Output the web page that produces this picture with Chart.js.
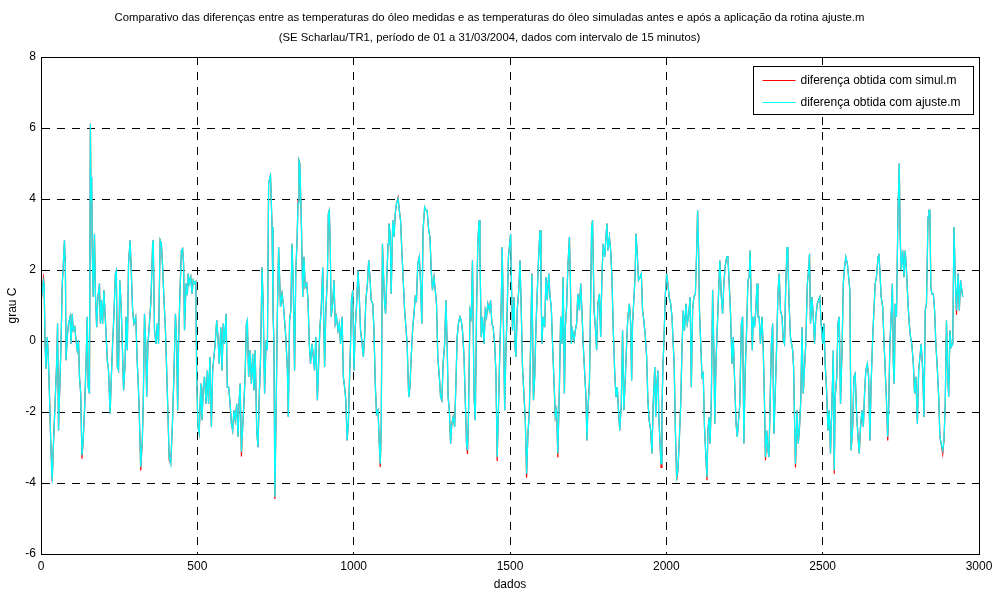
<!DOCTYPE html>
<html lang="pt">
<head>
<meta charset="utf-8">
<title>Comparativo das diferenças de temperatura do óleo</title>
<script src="https://cdn.jsdelivr.net/npm/chart.js@4.4.1/dist/chart.umd.min.js"></script>
<style>
  html, body { margin: 0; padding: 0; background: #fff; }
  canvas { display: block; }
</style>
</head>
<body>
<canvas id="chart" width="994" height="593"></canvas>
<script>
const TITLE_LINES = [
  "Comparativo das diferenças entre as temperaturas do óleo medidas e as temperaturas do óleo simuladas antes e após a aplicação da rotina ajuste.m",
  "(SE Scharlau/TR1, período de 01 a 31/03/2004, dados com intervalo de 15 minutos)",
];
const X_LABEL = "dados";
const Y_LABEL = "grau C";
const X_TICKS = [0, 500, 1000, 1500, 2000, 2500, 3000];
const Y_TICKS = [-6, -4, -2, 0, 2, 4, 6, 8];
const SERIES_LABELS = ["diferença obtida com simul.m", "diferença obtida com ajuste.m"];

// índice da amostra (intervalo de 15 minutos)
const dados = [
  1, 8, 10, 13, 16, 20, 23, 27, 31, 35, 36, 39, 45, 50, 53, 56, 61, 64, 68, 71, 75, 78, 80, 84, 88, 93, 96, 100, 103, 108, 112, 116, 120, 123, 127, 131, 135, 140, 144, 148, 151, 155, 158, 160, 162, 164, 167, 171, 174, 178, 182, 187, 190, 193, 197, 201, 207, 212, 216, 221, 225, 229, 233, 238, 241, 244, 248, 252, 256, 260, 264, 269, 272, 276, 280, 285, 289, 293, 297,
  303, 308, 311, 314, 319, 324, 327, 331, 335, 338, 342, 346, 351, 354, 357, 359, 363, 368, 372, 376, 381, 385, 389, 393, 398, 402, 406, 410, 415, 420, 425, 430, 434, 437, 440, 444, 449, 453, 456, 459, 464, 468, 471, 474, 479, 483, 487, 491, 495, 498, 502, 506, 511, 515, 519, 523, 528, 532, 536, 540, 545, 549, 553, 557, 562, 566, 570, 575, 579, 583, 587, 592, 596,
  600, 604, 609, 613, 617, 621, 626, 630, 634, 637, 641, 645, 649, 653, 657, 660, 664, 668, 673, 677, 681, 685, 690, 694, 698, 702, 707, 711, 715, 720, 724, 728, 732, 734, 739, 742, 745, 748, 752, 756, 760, 763, 766, 771, 775, 779, 783, 788, 791, 795, 799, 803, 807, 811, 815, 819, 822, 825, 828, 833, 837, 841, 845, 850, 854, 858, 862, 867, 871, 875, 879, 884, 888, 892, 896, 901,
  907, 911, 916, 919, 922, 925, 928, 933, 937, 941, 945, 950, 954, 958, 963, 967, 971, 975, 979, 983, 986, 990, 993, 997, 1001, 1005, 1009, 1014, 1018, 1022, 1027, 1031, 1035, 1039, 1044, 1048, 1052, 1056, 1061, 1065, 1069, 1073, 1078, 1082, 1085, 1088, 1092, 1095, 1099, 1102, 1105, 1110, 1113, 1117, 1120, 1125, 1129, 1133, 1137, 1142, 1146, 1150, 1154, 1159, 1163, 1167, 1171, 1176, 1180, 1184, 1189, 1193, 1197,
  1201, 1205, 1210, 1214, 1218, 1222, 1227, 1231, 1235, 1240, 1244, 1248, 1252, 1257, 1261, 1265, 1269, 1274, 1278, 1282, 1286, 1291, 1295, 1299, 1302, 1306, 1310, 1314, 1318, 1323, 1327, 1331, 1335, 1340, 1344, 1348, 1353, 1357, 1361, 1364, 1367, 1372, 1376, 1380, 1385, 1389, 1393, 1397, 1401, 1404, 1408, 1412, 1417, 1421, 1425, 1429, 1434, 1438, 1442, 1446, 1451, 1455, 1459, 1463, 1468, 1472, 1475, 1478, 1483, 1487, 1491, 1495,
  1502, 1505, 1508, 1513, 1516, 1519, 1523, 1528, 1532, 1536, 1540, 1545, 1549, 1553, 1557, 1562, 1566, 1570, 1575, 1579, 1583, 1587, 1592, 1596, 1599, 1602, 1606, 1611, 1615, 1619, 1624, 1628, 1632, 1636, 1641, 1645, 1649, 1653, 1658, 1662, 1666, 1670, 1674, 1677, 1681, 1685, 1690, 1693, 1696, 1700, 1705, 1709, 1713, 1717, 1722, 1726, 1730, 1734, 1739, 1743, 1746, 1749, 1754, 1758, 1761, 1764, 1769, 1773, 1777, 1781, 1786, 1790, 1794, 1798,
  1803, 1807, 1810, 1813, 1818, 1822, 1826, 1830, 1835, 1839, 1843, 1847, 1851, 1856, 1860, 1864, 1869, 1873, 1877, 1882, 1886, 1889, 1892, 1896, 1900, 1903, 1907, 1911, 1916, 1920, 1924, 1928, 1933, 1937, 1941, 1945, 1950, 1954, 1958, 1963, 1966, 1969, 1973, 1976, 1980, 1983, 1986, 1989, 1992, 1997, 2001, 2005, 2009, 2014, 2018, 2022, 2025, 2029, 2033, 2037, 2041, 2046, 2050, 2054, 2058, 2063, 2067, 2071, 2076, 2080, 2084, 2088, 2093, 2097, 2100,
  2103, 2106, 2110, 2114, 2118, 2122, 2127, 2130, 2133, 2137, 2140, 2144, 2148, 2152, 2155, 2159, 2163, 2167, 2171, 2176, 2180, 2184, 2188, 2193, 2197, 2201, 2205, 2210, 2214, 2218, 2223, 2227, 2231, 2235, 2240, 2244, 2248, 2252, 2257, 2261, 2265, 2268, 2272, 2275, 2278, 2282, 2286, 2290, 2293, 2297, 2301, 2306, 2310, 2314, 2317, 2321, 2325, 2328, 2331, 2336, 2340, 2344, 2348, 2353, 2357, 2361, 2365, 2370, 2374, 2378, 2382, 2386, 2389, 2393, 2397,
  2404, 2407, 2410, 2413, 2418, 2422, 2426, 2430, 2434, 2438, 2442, 2446, 2451, 2455, 2458, 2461, 2466, 2470, 2474, 2478, 2483, 2487, 2491, 2495, 2500, 2504, 2508, 2513, 2517, 2521, 2525, 2530, 2534, 2537, 2540, 2545, 2549, 2553, 2557, 2562, 2566, 2570, 2574, 2579, 2583, 2587, 2591, 2596, 2600, 2604, 2608, 2613, 2617, 2621, 2626, 2630, 2634, 2638, 2643, 2647, 2651, 2655, 2660, 2664, 2668, 2672, 2677, 2680, 2683, 2687, 2692, 2696, 2700,
  2704, 2708, 2711, 2715, 2719, 2723, 2726, 2729, 2732, 2736, 2741, 2745, 2748, 2751, 2756, 2760, 2764, 2768, 2773, 2777, 2781, 2785, 2790, 2794, 2798, 2803, 2807, 2811, 2815, 2820, 2824, 2828, 2832, 2837, 2840, 2843, 2846, 2849, 2854, 2858, 2862, 2867, 2871, 2875, 2879, 2884, 2888, 2892, 2896, 2900, 2903, 2907, 2911, 2916, 2920, 2924, 2928, 2933, 2937, 2941, 2945, 2948,
];

// diferença medida - simulada com ajuste.m (grau C)
const difAjuste = [
  1.15, 1.70, 1.62, -0.08, -0.78, 0.11, -0.36, -1.48, -2.80, -3.83, -3.88, -3.08, -1.77, -0.64, 0.49, -2.52, -1.01, -0.08, 1.62, 2.08, 2.84, 2.08, -0.54, 0.11, 0.49, 0.68, -0.08, 0.77, 0.30, 0.39, 0.02, -0.26, 0.02, -1.01, -1.48, -3.22, -2.80, -1.77, -0.64, 0.68, -1.30, -1.48, 6.12, 3.96, 4.62, 2.55, 1.24, 3.02, 1.33, 0.39, 1.24, 1.62, 0.49, 1.15, 0.49, 1.43, 0.39, -0.54, -0.83, -2.05, -1.01, -0.08, 0.68, 1.90, 1.99, -0.73, -0.83, 1.71, 1.05, -0.08, -1.39, -0.64, 0.68, -0.26, 2.18, 2.84, 1.90, 0.86, 0.49,
  0.68, -0.64, -1.20, -1.95, -3.55, -2.80, -1.77, 0.77, -0.08, -1.58, -0.08, 0.39, 1.05, 1.80, 2.74, 2.84, 0.30, -0.08, 0.49, -0.08, 2.84, 2.74, 2.08, 1.24, 0.30, -0.83, -2.05, -3.27, -3.46, -2.42, -1.01, 0.77, -0.08, -1.95, -0.08, 1.24, 2.55, 2.60, 2.18, 0.30, 1.62, 1.29, 1.90, 1.62, 1.80, 1.33, 1.71, 1.62, 1.67, -1.01, -2.42, -2.61, -1.20, -2.23, -1.30, -1.01, -1.77, -0.83, -1.77, -0.45, -2.42, -0.83, -0.45, -0.08, 0.58, 0.11, -0.64, 0.39, -0.83, 0.49, -0.08, 0.77, -1.30,
  -1.30, -1.67, -2.33, -2.52, -1.95, -2.23, -1.77, -2.70, -1.67, -1.20, -3.12, -2.42, -1.77, -0.92, 0.49, 0.58, -1.01, -0.26, -1.20, -0.36, -1.39, -0.26, -2.52, -2.99, -1.58, -0.54, 2.08, 0.86, -1.48, 0.02, -0.26, 4.43, 4.62, 4.67, 3.21, 0.86, -0.08, -4.39, -1.95, 0.77, 2.65, 1.80, 0.96, 1.33, 1.05, 0.58, 0.11, -0.83, -2.14, 0.58, 0.86, 2.74, 1.43, -0.83, 1.99, 2.84, 3.87, 5.09, 5.00, 3.21, 1.24, 2.37, 1.52, 1.62, 1.15, -0.08, -0.64, -0.08, -0.45, -0.83, 0.11, -1.67, -0.64, 0.39, 0.86, 2.08,
  -0.73, 0.86, 1.80, 3.59, 3.68, 2.74, 0.68, 1.05, 1.71, 0.49, 0.68, 0.30, 0.49, -0.08, 0.68, -1.01, -1.30, -1.67, -2.80, -2.33, -1.30, -0.08, 1.15, 1.43, -0.83, 0.39, 0.96, 1.99, 1.24, 0.30, -0.08, -0.45, 0.11, 1.15, 1.62, 2.27, 1.80, 1.15, 1.05, 0.30, -1.20, -2.05, -1.95, -2.89, -3.46, -2.52, 2.74, 1.99, 1.05, 0.77, 1.52, 2.74, 3.31, 2.98, 1.33, 3.40, 2.93, 3.59, 3.87, 4.01, 3.68, 3.40, 2.55, 1.62, 0.86, 0.39, -0.08, -1.58, -1.30, -0.45, 0.39, 0.77, 1.24,
  1.15, 2.18, 2.37, 1.62, 0.49, 3.12, 3.77, 3.68, 3.68, 3.12, 2.93, 1.99, 1.43, 1.80, 1.43, 1.05, -0.45, -1.01, -1.58, -1.67, -0.64, -0.08, 1.15, -0.08, -1.58, -1.95, -2.89, -2.33, -2.14, -2.42, -1.20, 0.11, 0.49, 0.68, 0.58, 0.30, -0.45, -1.67, -2.89, -3.08, -2.23, 0.86, 0.68, 2.27, -1.58, -2.23, 0.86, 2.74, 3.40, 2.37, 0.11, 0.68, -0.08, 0.86, 0.68, 1.05, 0.86, 1.15, 0.49, 0.39, -0.08, -0.92, -3.27, -1.95, -0.08, 1.05, 2.65, 1.05, -1.95, -0.26, 0.86, 2.37,
  3.02, 1.43, 0.30, 1.24, -0.17, -0.45, 0.86, 1.43, 2.27, 0.86, -0.73, -1.58, -2.23, -3.74, -2.70, -1.95, -0.08, 1.90, -1.67, -1.01, 0.39, 1.33, 2.46, 3.12, 1.80, -0.08, 0.68, 0.39, 1.80, 1.15, 1.90, 1.24, 0.96, -0.08, -1.20, -2.14, -1.95, -3.17, -1.30, 0.68, -0.08, 1.80, -1.48, 0.39, 0.96, 2.08, 2.93, 1.80, -0.08, 0.30, 0.02, 0.30, 0.49, 1.33, 0.86, 1.62, 0.86, -0.08, -0.92, -1.58, -2.80, -1.95, -1.20, 1.24, 3.21, 3.40, 0.86, 0.39, -0.26, 1.05, 1.33, 0.11, 1.80, 2.74,
  2.37, 2.93, 3.31, 2.55, 2.93, 2.55, 1.80, 0.39, -0.92, -1.58, -1.30, -1.95, -2.52, -1.77, 0.30, -1.95, -1.01, -0.08, 0.68, 1.05, 0.49, -1.11, 0.49, 1.15, 1.80, 3.02, 2.46, 1.71, 1.80, 1.90, 0.86, 0.58, 0.11, -0.45, -1.67, -2.23, -2.52, -3.17, -1.77, -0.73, -2.14, -1.30, -0.83, -2.14, -2.89, -3.46, -1.95, -0.73, -0.08, 1.33, 1.90, 1.62, 1.24, 1.05, 0.68, -0.08, -0.64, -2.52, -3.83, -3.64, -2.89, -1.77, -0.26, 0.86, 0.30, 1.05, 0.49, 0.68, 1.24, -1.30, 0.86, 1.24, 1.33, 2.55, 3.68,
  2.65, 0.86, -0.08, -1.01, -0.92, -2.42, -3.36, -3.83, -2.52, -2.14, -2.89, -1.58, 1.43, -0.26, -2.33, -0.54, 0.39, 1.33, 2.27, 1.24, 0.77, 1.62, 2.08, 2.37, 2.37, 1.62, 0.86, -0.64, 0.11, -1.01, -2.33, -2.70, -2.23, -1.77, 0.49, 0.68, -2.89, -0.92, 0.39, 1.71, 1.80, 2.55, 0.86, -0.26, 0.68, 0.39, 0.86, 1.62, 0.68, 0.68, -0.08, 0.68, -0.26, -1.77, -3.27, -2.52, -3.08, -3.27, -2.14, -0.08, 0.49, -2.61, -1.58, -0.08, 1.33, 1.90, 0.86, 0.68, 0.02, -0.08, 1.62, 2.65, 2.27, 0.96, 0.11,
  -0.26, -0.73, -2.23, -3.46, -1.95, -2.89, -2.42, -1.67, 0.39, -1.48, -0.73, -0.08, 1.62, 1.99, 2.46, 0.49, 1.24, 0.68, -0.08, 0.68, 1.05, 1.15, 1.24, 0.49, -0.08, 0.49, -0.64, -1.48, -2.52, -1.95, -3.17, -1.67, -0.26, -3.64, -1.58, -1.01, 0.49, 0.68, -1.77, -0.26, 1.62, 2.08, 2.37, 2.18, 1.80, 1.43, -3.08, -2.42, -1.01, -0.92, -1.95, -2.70, -3.17, -2.42, -1.95, -2.42, -1.48, -0.83, -0.64, -1.01, -2.80, -1.20, 0.11, 0.86, 1.62, 1.80, 2.37, 2.46, 1.99, 1.24, 0.96, 0.02, -0.83,
  -1.67, -2.70, -1.95, -0.08, 0.68, 1.62, -0.64, -1.20, 1.05, 0.68, 3.68, 5.00, 2.93, 1.99, 2.55, 1.80, 2.55, 1.99, 1.05, 0.49, 0.11, -0.08, -0.64, -1.48, -1.01, -2.33, -0.83, -0.45, -0.08, -0.83, -2.14, 0.86, 1.05, 3.49, 3.68, 3.68, 1.52, 1.33, 1.33, 0.86, -0.08, -0.83, -1.58, -2.70, -2.89, -3.08, -2.80, -1.77, 0.58, -1.01, -1.58, 0.30, -0.17, -0.08, 3.21, 1.80, 0.86, 1.90, 0.86, 1.71, 1.43, 1.24,
];

// diferença medida - simulada com simul.m (grau C)
const difSimul = [
  1.15, 1.78, 1.62, -0.08, -0.78, 0.11, -0.36, -1.48, -2.80, -3.83, -3.95, -3.08, -1.77, -0.64, 0.49, -2.52, -1.01, -0.08, 1.62, 2.08, 2.84, 2.08, -0.54, 0.11, 0.49, 0.68, -0.08, 0.77, 0.30, 0.39, 0.02, -0.26, 0.02, -1.01, -1.48, -3.32, -2.80, -1.77, -0.64, 0.68, -1.30, -1.48, 6.12, 3.96, 4.62, 2.55, 1.24, 3.02, 1.33, 0.39, 1.24, 1.62, 0.49, 1.15, 0.49, 1.43, 0.39, -0.54, -0.83, -2.05, -1.01, -0.08, 0.68, 1.90, 1.99, -0.73, -0.83, 1.71, 1.05, -0.08, -1.39, -0.64, 0.68, -0.26, 2.18, 2.84, 1.90, 0.86, 0.49,
  0.68, -0.64, -1.20, -1.95, -3.65, -2.80, -1.77, 0.77, -0.08, -1.58, -0.08, 0.39, 1.05, 1.80, 2.74, 2.84, 0.30, -0.08, 0.49, -0.08, 2.84, 2.74, 2.08, 1.24, 0.30, -0.83, -2.05, -3.35, -3.46, -2.42, -1.01, 0.77, -0.08, -1.95, -0.08, 1.24, 2.55, 2.60, 2.18, 0.30, 1.62, 1.29, 1.90, 1.62, 1.80, 1.33, 1.71, 1.62, 1.67, -1.01, -2.42, -2.61, -1.20, -2.23, -1.30, -1.01, -1.77, -0.83, -1.77, -0.45, -2.42, -0.83, -0.45, -0.08, 0.58, 0.11, -0.64, 0.39, -0.83, 0.49, -0.08, 0.77, -1.30,
  -1.30, -1.67, -2.33, -2.52, -1.95, -2.23, -1.77, -2.70, -1.67, -1.20, -3.25, -2.42, -1.77, -0.92, 0.49, 0.58, -1.01, -0.26, -1.20, -0.36, -1.39, -0.26, -2.52, -2.99, -1.58, -0.54, 2.08, 0.86, -1.48, 0.02, -0.26, 4.43, 4.62, 4.67, 3.21, 0.86, -0.08, -4.45, -1.95, 0.77, 2.65, 1.80, 0.96, 1.33, 1.05, 0.58, 0.11, -0.83, -2.14, 0.58, 0.86, 2.74, 1.43, -0.83, 1.99, 2.84, 3.95, 5.09, 5.00, 3.21, 1.24, 2.37, 1.52, 1.62, 1.15, -0.08, -0.64, -0.08, -0.45, -0.83, 0.11, -1.67, -0.64, 0.39, 0.86, 2.08,
  -0.73, 0.86, 1.80, 3.59, 3.68, 2.74, 0.68, 1.05, 1.71, 0.49, 0.68, 0.30, 0.49, -0.08, 0.68, -1.01, -1.30, -1.67, -2.80, -2.33, -1.30, -0.08, 1.15, 1.43, -0.83, 0.39, 0.96, 1.99, 1.24, 0.30, -0.08, -0.45, 0.11, 1.15, 1.62, 2.27, 1.80, 1.15, 1.05, 0.30, -1.20, -2.05, -1.95, -2.89, -3.55, -2.52, 2.74, 1.99, 1.05, 0.77, 1.52, 2.74, 3.31, 2.98, 1.33, 3.40, 2.93, 3.59, 3.87, 4.04, 3.68, 3.40, 2.55, 1.62, 0.86, 0.39, -0.08, -1.58, -1.30, -0.45, 0.39, 0.77, 1.24,
  1.15, 2.18, 2.37, 1.62, 0.49, 3.12, 3.77, 3.68, 3.68, 3.12, 2.93, 1.99, 1.43, 1.80, 1.43, 1.05, -0.45, -1.01, -1.58, -1.67, -0.64, -0.08, 1.15, -0.08, -1.58, -1.95, -2.89, -2.33, -2.14, -2.42, -1.20, 0.11, 0.49, 0.68, 0.58, 0.30, -0.45, -1.67, -2.89, -3.18, -2.23, 0.86, 0.68, 2.27, -1.58, -2.23, 0.86, 2.74, 3.40, 2.37, 0.11, 0.68, -0.08, 0.86, 0.68, 1.05, 0.86, 1.15, 0.49, 0.39, -0.08, -0.92, -3.38, -1.95, -0.08, 1.05, 2.65, 1.05, -1.95, -0.26, 0.86, 2.37,
  3.02, 1.43, 0.30, 1.24, -0.17, -0.45, 0.86, 1.43, 2.27, 0.86, -0.73, -1.58, -2.23, -3.85, -2.70, -1.95, -0.08, 1.90, -1.67, -1.01, 0.39, 1.33, 2.46, 3.12, 1.80, -0.08, 0.68, 0.39, 1.80, 1.15, 1.90, 1.24, 0.96, -0.08, -1.20, -2.14, -1.95, -3.28, -1.30, 0.68, -0.08, 1.80, -1.48, 0.39, 0.96, 2.08, 2.93, 1.80, -0.08, 0.30, 0.02, 0.30, 0.49, 1.33, 0.86, 1.62, 0.86, -0.08, -0.92, -1.58, -2.80, -1.95, -1.20, 1.24, 3.21, 3.40, 0.86, 0.39, -0.26, 1.05, 1.33, 0.11, 1.80, 2.74,
  2.37, 2.93, 3.31, 2.55, 2.93, 2.55, 1.80, 0.39, -0.92, -1.58, -1.30, -1.95, -2.52, -1.77, 0.30, -1.95, -1.01, -0.08, 0.68, 1.05, 0.49, -1.11, 0.49, 1.15, 1.80, 3.02, 2.46, 1.71, 1.80, 1.90, 0.86, 0.58, 0.11, -0.45, -1.67, -2.23, -2.52, -3.17, -1.77, -0.73, -2.14, -1.30, -0.83, -2.14, -2.89, -3.56, -1.95, -0.73, -0.08, 1.33, 1.90, 1.62, 1.24, 1.05, 0.68, -0.08, -0.64, -2.52, -3.92, -3.64, -2.89, -1.77, -0.26, 0.86, 0.30, 1.05, 0.49, 0.68, 1.24, -1.30, 0.86, 1.24, 1.33, 2.55, 3.68,
  2.65, 0.86, -0.08, -1.01, -0.92, -2.42, -3.36, -3.92, -2.52, -2.14, -2.89, -1.58, 1.43, -0.26, -2.33, -0.54, 0.39, 1.33, 2.27, 1.24, 0.77, 1.62, 2.08, 2.37, 2.37, 1.62, 0.86, -0.64, 0.11, -1.01, -2.33, -2.70, -2.23, -1.77, 0.49, 0.68, -2.89, -0.92, 0.39, 1.71, 1.80, 2.55, 0.86, -0.26, 0.68, 0.39, 0.86, 1.62, 0.68, 0.68, -0.08, 0.68, -0.26, -1.77, -3.36, -2.52, -3.08, -3.27, -2.14, -0.08, 0.49, -2.61, -1.58, -0.08, 1.33, 1.90, 0.86, 0.68, 0.02, -0.08, 1.62, 2.65, 2.27, 0.96, 0.11,
  -0.26, -0.73, -2.23, -3.56, -1.95, -2.89, -2.42, -1.67, 0.39, -1.48, -0.73, -0.08, 1.62, 1.99, 2.46, 0.49, 1.24, 0.68, -0.08, 0.68, 1.05, 1.15, 1.24, 0.49, -0.08, 0.49, -0.64, -1.48, -2.52, -1.95, -3.17, -1.67, -0.26, -3.74, -1.58, -1.01, 0.49, 0.68, -1.77, -0.26, 1.62, 2.08, 2.37, 2.18, 1.80, 1.43, -3.08, -2.42, -1.01, -0.92, -1.95, -2.70, -3.17, -2.42, -1.95, -2.42, -1.48, -0.83, -0.64, -1.01, -2.80, -1.20, 0.11, 0.86, 1.62, 1.80, 2.37, 2.46, 1.99, 1.24, 0.96, 0.02, -0.83,
  -1.67, -2.80, -1.95, -0.08, 0.68, 1.62, -0.64, -1.20, 1.05, 0.68, 3.68, 5.00, 2.93, 1.99, 2.55, 1.80, 2.55, 1.99, 1.05, 0.49, 0.11, -0.08, -0.64, -1.48, -1.01, -2.33, -0.83, -0.45, -0.08, -0.83, -2.14, 0.86, 1.05, 3.49, 3.68, 3.68, 1.52, 1.33, 1.33, 0.86, -0.08, -0.83, -1.58, -2.70, -2.89, -3.18, -2.80, -1.77, 0.58, -1.01, -1.58, 0.30, -0.17, -0.08, 3.21, 1.80, 0.74, 1.90, 0.86, 1.71, 1.43, 1.24,
];

const FONT_FAMILY = "'Liberation Sans', Arial, Helvetica, sans-serif";
const RED = "#ff0000";
const CYAN = "#00ffff";

function toPoints(values) {
  return dados.map((x, index) => ({ x, y: values[index] }));
}

// MATLAB-like box around the axes plus the boxed legend in the upper right corner
const axesFrame = {
  id: "axesFrame",
  afterDraw(chart) {
    const { ctx, chartArea } = chart;
    const left = Math.round(chartArea.left) + 0.5;
    const top = Math.round(chartArea.top) + 0.5;
    const right = Math.round(chartArea.right) + 0.5;
    const bottom = Math.round(chartArea.bottom) + 0.5;

    ctx.save();
    ctx.strokeStyle = "#000";
    ctx.lineWidth = 1;
    ctx.setLineDash([]);
    ctx.strokeRect(left, top, right - left, bottom - top);

    const boxWidth = 220;
    const boxHeight = 48;
    const boxLeft = right - 6 - boxWidth;
    const boxTop = top + 9;
    ctx.fillStyle = "#fff";
    ctx.fillRect(boxLeft, boxTop, boxWidth, boxHeight);
    ctx.strokeRect(boxLeft, boxTop, boxWidth, boxHeight);

    ctx.font = `12px ${FONT_FAMILY}`;
    ctx.textBaseline = "middle";
    ctx.textAlign = "left";
    chart.data.datasets.forEach((dataset, index) => {
      const rowY = Math.round(boxTop + 13 + index * 22) + 0.5;
      ctx.strokeStyle = dataset.borderColor;
      ctx.beginPath();
      ctx.moveTo(boxLeft + 9, rowY);
      ctx.lineTo(boxLeft + 42, rowY);
      ctx.stroke();
      ctx.fillStyle = "#000";
      ctx.fillText(dataset.label, boxLeft + 47, rowY);
    });
    ctx.restore();
  },
};

new Chart(document.querySelector("#chart"), {
  type: "line",
  data: {
    datasets: [
      {
        label: SERIES_LABELS[0],
        data: toPoints(difSimul),
        borderColor: RED,
        borderWidth: 1.2,
        pointRadius: 0,
        tension: 0,
        order: 2,
      },
      {
        label: SERIES_LABELS[1],
        data: toPoints(difAjuste),
        borderColor: CYAN,
        borderWidth: 1.3,
        pointRadius: 0,
        tension: 0,
        order: 1,
      },
    ],
  },
  options: {
    responsive: false,
    animation: false,
    events: [],
    layout: { padding: { top: 0, right: 15, bottom: 0, left: 0 } },
    scales: {
      x: {
        type: "linear",
        min: 0,
        max: 3000,
        afterBuildTicks: (scale) => {
          scale.ticks = X_TICKS.map((value) => ({ value }));
        },
        afterFit: (scale) => {
          scale.height = 39;
          scale.paddingLeft = 0;
          scale.paddingRight = 0;
        },
        ticks: {
          callback: (value) => String(value),
          color: "#000",
          padding: 5,
          maxRotation: 0,
          font: { family: FONT_FAMILY, size: 12 },
        },
        grid: { color: "#000", lineWidth: 1, drawTicks: false },
        border: { display: true, color: "#000", dash: [8, 7] },
        title: {
          display: true,
          text: X_LABEL,
          color: "#000",
          padding: { top: 0, bottom: 1 },
          font: { family: FONT_FAMILY, size: 12 },
        },
      },
      y: {
        type: "linear",
        min: -6,
        max: 8,
        afterBuildTicks: (scale) => {
          scale.ticks = Y_TICKS.map((value) => ({ value }));
        },
        afterFit: (scale) => {
          scale.width = 41;
        },
        ticks: {
          callback: (value) => String(value),
          color: "#000",
          padding: 5,
          font: { family: FONT_FAMILY, size: 12 },
        },
        grid: { color: "#000", lineWidth: 1, drawTicks: false },
        border: { display: true, color: "#000", dash: [8, 7] },
        title: {
          display: true,
          text: Y_LABEL,
          color: "#000",
          padding: { top: 5, bottom: 0 },
          font: { family: FONT_FAMILY, size: 12 },
        },
      },
    },
    plugins: {
      legend: { display: false },
      tooltip: { enabled: false },
      title: {
        display: true,
        text: TITLE_LINES,
        color: "#000",
        padding: { top: 8, bottom: 9 },
        font: { family: FONT_FAMILY, size: 11.3, weight: "normal", lineHeight: 1.77 },
      },
    },
  },
  plugins: [axesFrame],
});
</script>
</body>
</html>
